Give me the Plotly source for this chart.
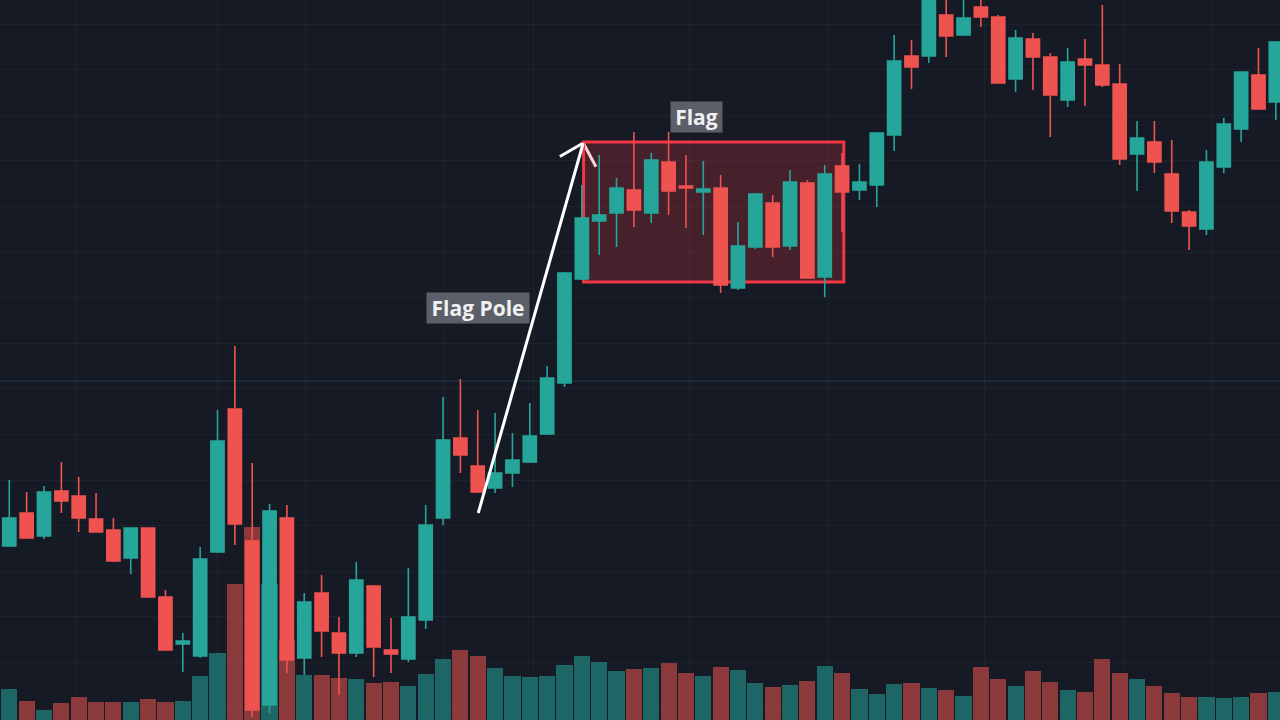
import math
import plotly.graph_objects as go

# ---- data ----
open_ = [117.4, 120.7, 118.4, 122.9, 122.4, 120.1, 119.0, 116.2, 119.2, 112.3,
         107.6, 106.4, 116.8, 131.1, 117.9, 101.5, 120.2, 106.2, 112.7, 108.7,
         106.7, 113.4, 107.0, 106.1, 110.0, 120.2, 128.2, 125.4, 123.2, 124.7,
         125.8, 128.6, 133.7, 144.1, 149.9, 150.7, 153.0, 150.7, 155.8, 153.4,
         152.8, 153.2, 143.2, 147.3, 151.7, 147.4, 153.7, 144.3, 155.4, 153.0,
         153.5, 158.5, 166.4, 166.4, 170.5, 168.5, 171.3, 170.3, 164.1, 168.1,
         166.3, 162.0, 166.1, 165.5, 163.6, 156.6, 157.8, 154.6, 150.8, 149.1,
         155.3, 159.1, 164.5, 161.8]
high = [124.0, 122.8, 123.4, 125.8, 124.3, 122.7, 120.2, 119.2, 119.2, 113.0,
        108.7, 117.3, 131.0, 137.4, 125.7, 121.6, 121.5, 112.7, 114.5, 110.3,
        115.8, 113.5, 110.2, 115.2, 121.5, 132.3, 134.1, 131.0, 130.7, 128.7,
        131.7, 135.4, 144.8, 153.5, 156.5, 154.2, 158.8, 156.7, 158.8, 156.5,
        155.9, 154.5, 149.8, 152.7, 152.5, 155.0, 154.0, 155.5, 156.7, 155.6,
        158.7, 168.5, 168.0, 172.8, 172.8, 172.8, 172.8, 170.5, 169.0, 168.7,
        166.7, 167.2, 168.1, 171.5, 165.6, 159.9, 159.9, 158.0, 151.0, 157.0,
        160.2, 164.8, 167.2, 167.8]
low = [117.3, 118.1, 118.1, 120.7, 118.8, 118.8, 115.8, 114.6, 112.3, 107.0,
       104.8, 106.2, 116.7, 117.5, 100.3, 100.7, 104.7, 104.5, 106.3, 102.5,
       106.3, 104.3, 104.7, 105.8, 109.1, 119.5, 124.7, 122.7, 122.7, 123.3,
       125.7, 128.5, 133.3, 144.0, 146.5, 147.3, 149.3, 149.7, 150.5, 149.2,
       148.5, 142.7, 143.0, 147.1, 146.3, 147.0, 144.2, 142.3, 148.8, 152.0,
       151.3, 156.9, 163.1, 165.7, 166.3, 168.5, 169.3, 163.7, 162.8, 163.0,
       158.3, 161.3, 161.4, 163.3, 155.5, 152.9, 154.7, 149.7, 147.0, 148.5,
       154.7, 157.8, 161.1, 160.0]
close = [120.2, 118.2, 122.8, 121.9, 120.2, 118.8, 115.9, 119.2, 112.3, 107.0,
         107.9, 116.1, 127.9, 119.6, 101.0, 120.9, 106.0, 111.8, 108.9, 106.7,
         114.0, 107.3, 106.6, 110.3, 119.5, 128.0, 126.5, 122.8, 124.7, 126.0,
         128.4, 134.2, 144.7, 150.2, 150.5, 153.2, 151.0, 156.0, 152.9, 153.2,
         153.1, 143.5, 147.4, 152.6, 147.3, 153.8, 144.2, 154.6, 152.8, 153.8,
         158.7, 165.9, 165.3, 172.3, 168.4, 170.2, 170.3, 163.7, 168.2, 166.3,
         162.5, 165.8, 165.5, 163.5, 156.1, 158.2, 155.8, 150.9, 149.4, 155.8,
         159.6, 164.8, 161.1, 167.8]
volume = [31, 19, 10, 17, 23, 18, 18, 18, 21, 18,
          19, 44, 67, 136, 193, 136, 80, 45, 45, 42,
          41, 37, 38, 34, 46, 61, 70, 64, 52, 44,
          43, 44, 55, 64, 58, 49, 51, 52, 57, 47,
          44, 53, 50, 37, 33, 35, 39, 54, 47, 31,
          26, 36, 37, 32, 30, 24, 53, 41, 34, 49,
          38, 30, 28, 61, 47, 41, 34, 27, 23, 23,
          22, 23, 27, 28]
bars = list(range(len(open_)))

# gridline positions (time / price grid of the chart)
grid_x = [3.9, 12.0, 17.1, 25.1, 30.2, 39.2, 47.2, 56.2, 64.2, 69.3]
grid_price_start = 101.2
grid_price_step = 4.56

# ---- style ----
BG = "#161a25"
UP = "#26a69a"
DOWN = "#ef5350"
UP_VOL = "rgba(38,166,154,0.55)"
DOWN_VOL = "rgba(239,83,80,0.55)"
GRID = "rgba(255,255,255,0.035)"

X_RANGE = [-0.536, 73.24]
P_RANGE = [100, 172]
W, H = 1280, 720

vol_colors = [UP_VOL if c >= o else DOWN_VOL for o, c in zip(open_, close)]

fig = go.Figure()
fig.add_trace(go.Bar(
    x=bars, y=volume, marker=dict(color=vol_colors, line=dict(width=0)),
    width=0.93, yaxis="y", hoverinfo="skip", showlegend=False))
fig.add_trace(go.Candlestick(
    x=bars, open=open_, high=high, low=low, close=close, yaxis="y2",
    increasing=dict(line=dict(color=UP, width=1.6), fillcolor=UP),
    decreasing=dict(line=dict(color=DOWN, width=1.6), fillcolor=DOWN),
    whiskerwidth=0, showlegend=False))

# ---- drawings: flag pole arrow and flag rectangle ----
pole_start = (27.03, 120.7)
pole_tip = (33.08, 157.7)
px_x = W / (X_RANGE[1] - X_RANGE[0])
px_p = H / (P_RANGE[1] - P_RANGE[0])
dx = (pole_start[0] - pole_tip[0]) * px_x
dy = -(pole_start[1] - pole_tip[1]) * px_p
ang = math.atan2(dy, dx)
wings = []
for s in (1, -1):
    a = ang + s * math.radians(44)
    wx = pole_tip[0] + 27 * math.cos(a) / px_x
    wp = pole_tip[1] - 27 * math.sin(a) / px_p
    wings.append((wx, wp))

shapes = []
for wx, wp in wings:
    shapes.append(dict(type="line", xref="x", yref="y2", layer="below",
                       x0=pole_tip[0], y0=pole_tip[1], x1=wx, y1=wp,
                       line=dict(color="white", width=3)))
shapes.append(dict(type="rect", xref="x", yref="y2", layer="below",
                   x0=33.1, x1=48.1, y0=143.8, y1=157.8,
                   fillcolor="rgba(242,54,69,0.22)",
                   line=dict(color="#f23645", width=3)))
shapes.append(dict(type="line", xref="x", yref="y2", layer="below",
                   x0=X_RANGE[0], x1=X_RANGE[1], y0=133.9, y1=133.9,
                   line=dict(color="rgba(38,166,154,0.25)", width=1)))
shapes.append(dict(type="line", xref="x", yref="y2", layer="above",
                   x0=pole_start[0], y0=pole_start[1], x1=pole_tip[0], y1=pole_tip[1],
                   line=dict(color="white", width=3)))

label_font = dict(family="Open Sans", size=21, color="#f0f0f0", weight="bold")
annotations = [
    dict(x=27.03, y=141.2, xref="x", yref="y2", text="Flag Pole", showarrow=False,
         bgcolor="rgba(95,99,110,0.95)", font=label_font, width=102, height=30,
         borderpad=0, xanchor="center", yanchor="middle"),
    dict(x=39.59, y=160.3, xref="x", yref="y2", text="Flag", showarrow=False,
         bgcolor="rgba(95,99,110,0.95)", font=label_font, width=51, height=30,
         borderpad=0, xanchor="center", yanchor="middle"),
]

fig.update_layout(
    width=W, height=H, margin=dict(l=0, r=0, t=0, b=0),
    paper_bgcolor=BG, plot_bgcolor=BG,
    shapes=shapes, annotations=annotations,
    showlegend=False, bargap=0, boxgap=0.13, boxgroupgap=0.13,
    xaxis=dict(range=X_RANGE, tickvals=grid_x, showticklabels=False,
               showgrid=True, gridcolor=GRID, gridwidth=1, zeroline=False,
               rangeslider=dict(visible=False), showline=False, ticks=""),
    yaxis=dict(range=[0, 720], showgrid=False, showticklabels=False,
               zeroline=False, showline=False, ticks=""),
    yaxis2=dict(range=P_RANGE, overlaying="y", side="right",
                tick0=grid_price_start, dtick=grid_price_step,
                showgrid=True, gridcolor=GRID, gridwidth=1,
                showticklabels=False, zeroline=False, showline=False, ticks=""),
)

fig.write_html("out.html", config={"displayModeBar": False},
               post_script="document.body.style.margin='0';")
